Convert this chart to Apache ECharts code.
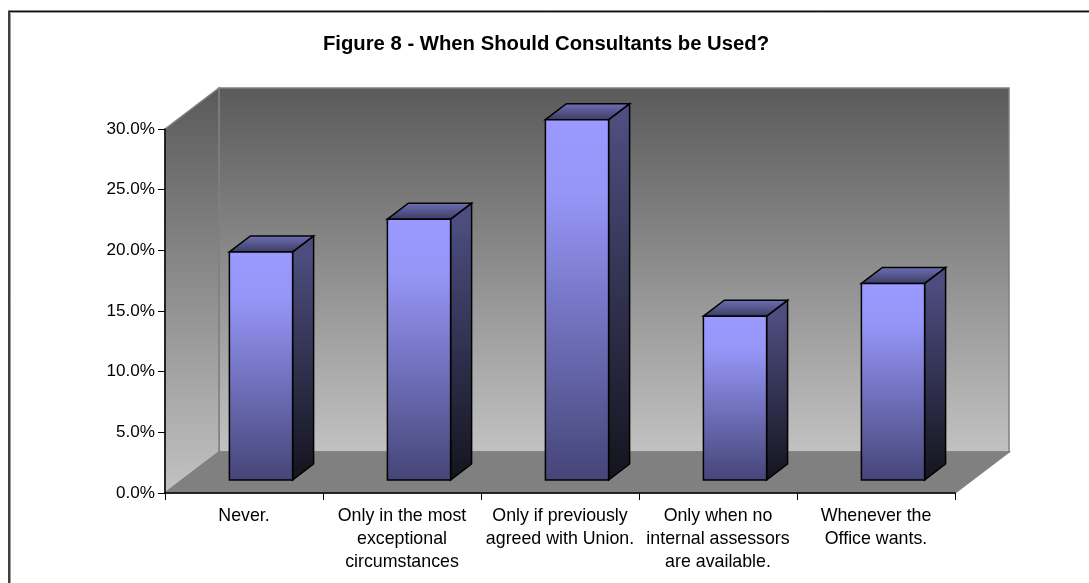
<!DOCTYPE html>
<html>
<head>
<meta charset="utf-8">
<style>html,body{margin:0;padding:0;background:#fff}#c{width:1089px;height:583px}</style>
<script src="https://cdn.jsdelivr.net/npm/echarts@6/dist/echarts.min.js"></script>
</head>
<body>
<div id="c"></div>
<script>
var titleText = 'Figure 8 - When Should Consultants be Used?';
var categories = ['Never.', 'Only in the most\nexceptional\ncircumstances', 'Only if previously\nagreed with Union.', 'Only when no\ninternal assessors\nare available.', 'Whenever the\nOffice wants.'];
var percentages = [18.8, 21.5, 29.7, 13.5, 16.2];

var FONT = '"Liberation Sans", Arial, sans-serif';
var wallDepth = [54, -41];
var barShift = [17, -13];
var barDepth = [21, -16];
var barRatio = 0.4;
var G = echarts.graphic;

function lin(y0, y1, stops) {
  return new G.LinearGradient(0, y0, 0, y1, stops.map(function (s) { return { offset: s[0], color: s[1] }; }), true);
}
function renderScene(params, api) {
  var cs = params.coordSys;
  var x0 = cs.x, x1 = cs.x + cs.width, y0 = cs.y + cs.height, y1 = cs.y;
  var dx = wallDepth[0], dy = wallDepth[1];
  var wallStops = [[0, '#5a5a5a'], [1, '#c2c2c2']];
  var edge = { stroke: '#808080', lineWidth: 1.5, lineJoin: 'miter' };
  return { type: 'group', children: [
    { type: 'polygon', shape: { points: [[x0 + dx, y1 + dy], [x1 + dx, y1 + dy], [x1 + dx, y0 + dy], [x0 + dx, y0 + dy]] },
      style: Object.assign({ fill: lin(y1 + dy, y0 + dy, wallStops) }, edge) },
    { type: 'polygon', shape: { points: [[x0, y1], [x0 + dx, y1 + dy], [x0 + dx, y0 + dy], [x0, y0]] },
      style: Object.assign({ fill: lin(y1 + dy, y0, wallStops) }, edge) },
    { type: 'polygon', shape: { points: [[x0, y0], [x0 + dx, y0 + dy], [x1 + dx, y0 + dy], [x1, y0]] },
      style: Object.assign({ fill: '#808080' }, edge) }
  ] };
}
function renderBar(params, api) {
  var top = api.coord([api.value(0), api.value(1)]);
  var base = api.coord([api.value(0), 0]);
  var w = api.size([1, 0])[0] * barRatio;
  var L = top[0] + barShift[0] - w / 2, R = L + w;
  var T = top[1] + barShift[1], B = base[1] + barShift[1];
  var dx = barDepth[0], dy = barDepth[1];
  var line = { stroke: '#000', lineWidth: 1.5, lineJoin: 'miter' };
  return { type: 'group', children: [
    { type: 'polygon', shape: { points: [[R, T], [R + dx, T + dy], [R + dx, B + dy], [R, B]] },
      style: Object.assign({ fill: lin(T, B, [[0, '#4d4d80'], [1, '#14141e']]) }, line) },
    { type: 'polygon', shape: { points: [[L, T], [L + dx, T + dy], [R + dx, T + dy], [R, T]] },
      style: Object.assign({ fill: lin(T + dy, T, [[0, '#6e6eb4'], [1, '#3d3d66']]) }, line) },
    { type: 'rect', shape: { x: L, y: T, width: w, height: B - T },
      style: Object.assign({ fill: lin(T, B, [[0, '#9999ff'], [0.2, '#9696f8'], [1, '#454578']]) }, line) }
  ] };
}

var chart = echarts.init(document.getElementById('c'), null, { renderer: 'canvas' });
chart.setOption({
  animation: false,
  backgroundColor: '#fff',
  title: { text: titleText, left: 541, top: 29, textAlign: 'center',
    textStyle: { fontFamily: FONT, fontSize: 20.3, fontWeight: 'bold', color: '#000' } },
  grid: { left: 165, right: 134, top: 129, bottom: 90, containLabel: false },
  xAxis: { type: 'category', data: categories, z: 5,
    axisLine: { show: true, lineStyle: { color: '#000', width: 1.5 } },
    axisTick: { show: true, length: 7, lineStyle: { color: '#000' } },
    axisLabel: { interval: 0, margin: 12, lineHeight: 23, fontFamily: FONT, fontSize: 17.8, color: '#000' } },
  yAxis: { type: 'value', min: 0, max: 30, interval: 5, z: 5,
    splitLine: { show: false },
    axisLine: { show: true, lineStyle: { color: '#000', width: 1.5 } },
    axisTick: { show: true, length: 7, lineStyle: { color: '#000' } },
    axisLabel: { margin: 10, fontFamily: FONT, fontSize: 17.1, color: '#000', formatter: function (v) { return v.toFixed(1) + '%'; } } },
  graphic: [
    { type: 'polyline', silent: true, z: 20, shape: { points: [[10.5, 583], [10.5, 12.5], [1089, 12.5]] }, style: { stroke: '#9a9a9a', fill: null, lineWidth: 1 } },
    { type: 'polyline', silent: true, z: 21, shape: { points: [[9, 583], [9, 11.25], [1089, 11.25]] }, style: { stroke: '#111', fill: null, lineWidth: 1.6 } }
  ],
  series: [
    { type: 'custom', name: 'scene', z: 1, clip: false, silent: true, renderItem: renderScene, data: [[0, 0]] },
    { type: 'custom', name: 'bars', z: 2, clip: false, silent: true, renderItem: renderBar,
      encode: { x: 0, y: 1 }, data: percentages.map(function (v, i) { return [i, v]; }) }
  ]
});
</script>
</body>
</html>
